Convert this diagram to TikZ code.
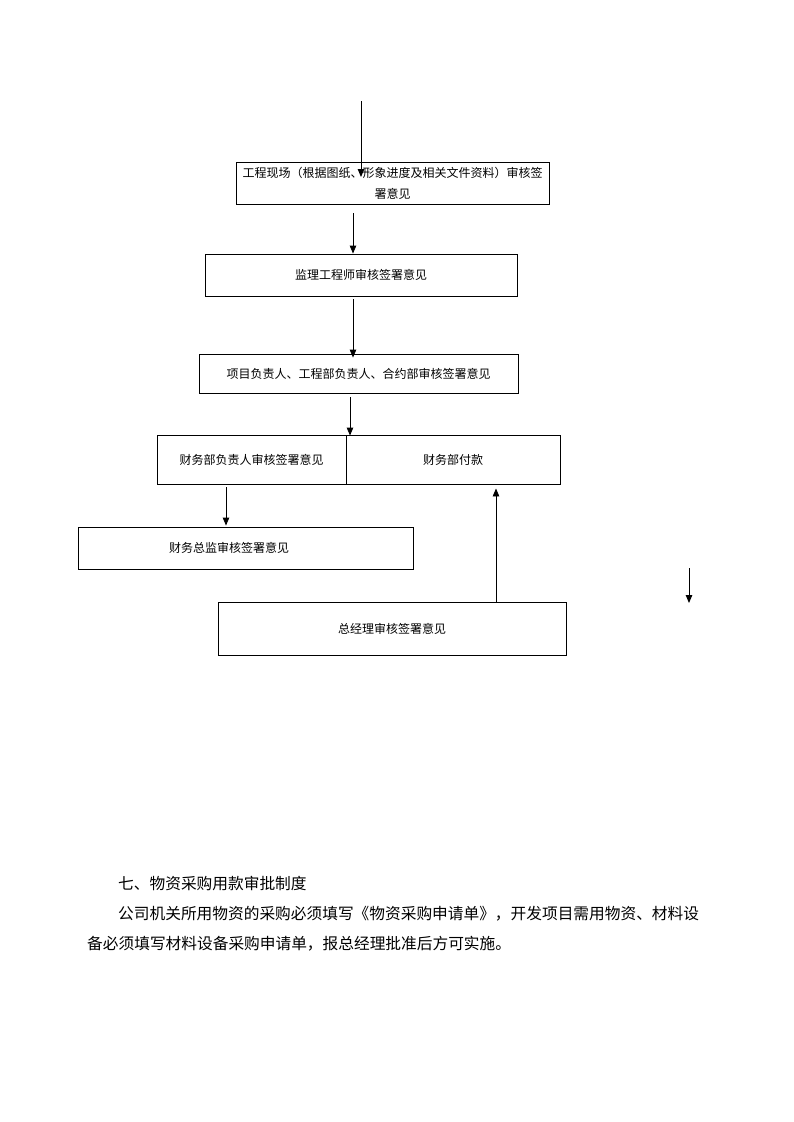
\documentclass[tikz,border=0pt]{standalone}
\usepackage{fontspec}
\newfontfamily\cjk{Noto Sans CJK SC}
\usetikzlibrary{arrows.meta}
\begin{document}
\begin{tikzpicture}[x=1pt,y=-1pt,
  box/.style={draw,line width=0.9pt,inner sep=0pt,font=\cjk\fontsize{12}{21}\selectfont,align=center},
  arr/.style={line width=0.9pt,-{Triangle[length=8pt,width=6.5pt]}},
  body/.style={anchor=west,inner sep=0pt,font=\cjk\fontsize{15.7}{16}\selectfont}]
\useasboundingbox[fill=white] (0,0) rectangle (793,1122);
% boxes
\node[box,minimum width=313pt,minimum height=42pt] (b1) at (392.5,183) {工程现场（根据图纸、形象进度及相关文件资料）审核签\\署意见};
\node[box,minimum width=312pt,minimum height=42pt] (b2) at (361,275) {监理工程师审核签署意见};
\node[box,minimum width=319pt,minimum height=39pt] (b3) at (358.5,373.5) {项目负责人、工程部负责人、合约部审核签署意见};
\node[box,minimum width=189pt,minimum height=49pt] (b4a) at (251.5,459.5) {财务部负责人审核签署意见};
\node[box,minimum width=214pt,minimum height=49pt] (b4b) at (453,459.5) {财务部付款};
\node[box,minimum width=335pt,minimum height=42pt] (b5) at (245.5,548) {\hspace*{-33pt}财务总监审核签署意见};
\node[box,minimum width=348pt,minimum height=53pt] (b6) at (392,628.5) {总经理审核签署意见};
% free ends
\coordinate (top) at (361,101);
\coordinate (topend) at (361,177);
\coordinate (r1) at (689,568);
\coordinate (r2) at (689,603);
% connectors
\draw[arr] (top) -- (topend);
\draw[arr] ([xshift=-39.5pt,yshift=-9pt]b1.south) -- ([xshift=-8pt,yshift=0pt]b2.north);
\draw[arr] ([xshift=-8pt,yshift=-3pt]b2.south) -- ([xshift=-5.5pt,yshift=-4pt]b3.north);
\draw[arr] ([xshift=-8.5pt,yshift=-4pt]b3.south) -- ([xshift=-103pt,yshift=-1pt]b4b.north);
\draw[arr] ([xshift=-25.5pt,yshift=-3pt]b4a.south) -- ([xshift=-19.5pt,yshift=1pt]b5.north);
\draw[arr] ([xshift=104pt]b6.north) -- ([xshift=43pt,yshift=-4pt]b4b.south);
\draw[arr] (r1) -- (r2);
% text
\node[body] (h) at (118,884) {七、物资采购用款审批制度};
\node[body] (p1) at (118,914) {公司机关所用物资的采购必须填写《物资采购申请单》，开发项目需用物资、材料设};
\node[body] (p2) at (87,944) {备必须填写材料设备采购申请单，报总经理批准后方可实施。};
\end{tikzpicture}
\end{document}
